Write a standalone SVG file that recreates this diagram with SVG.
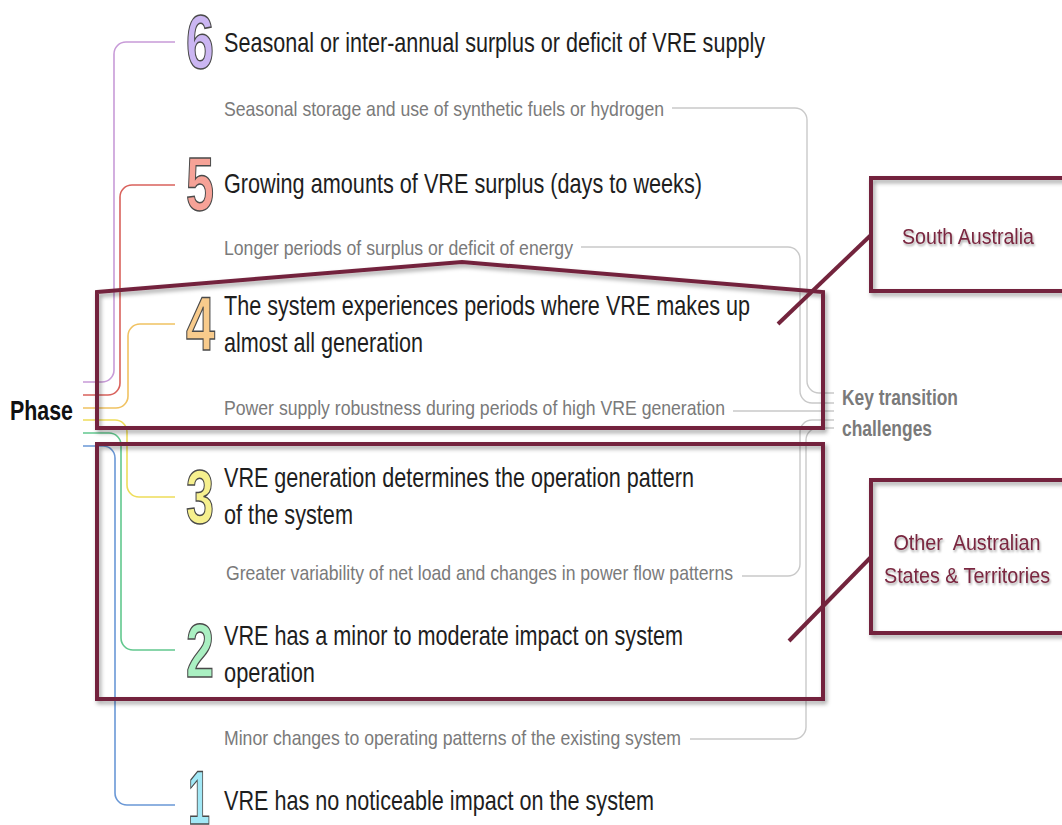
<svg xmlns="http://www.w3.org/2000/svg" width="1062" height="825" viewBox="0 0 1062 825">
<style>
.main{font-family:"Liberation Sans",Arial,sans-serif;font-size:28px;fill:#1e1e1e}
.sub{font-family:"Liberation Sans",Arial,sans-serif;font-size:21px;fill:#7a7a7a}
.dig{font-family:"Liberation Sans",Arial,sans-serif;font-size:76px;font-weight:bold;stroke:#4a4a4a;stroke-width:1.5}
.ph{fill:none;stroke-width:1.6}
.gc{fill:none;stroke:#c9c9c9;stroke-width:1.4}
.box{fill:none;stroke:#73243d;stroke-width:4;filter:url(#sh)}
.lead{stroke:#73243d;stroke-width:4;fill:none}
.call{font-family:"Liberation Sans",Arial,sans-serif;font-size:22px;fill:#7a2840;text-anchor:middle;filter:url(#tsh)}
.key{font-family:"Liberation Sans",Arial,sans-serif;font-size:22px;font-weight:bold;fill:#7a7a7a}
</style>
<defs>
<filter id="sh" x="-5%" y="-5%" width="110%" height="115%"><feDropShadow dx="2" dy="3" stdDeviation="2" flood-color="#000" flood-opacity="0.35"/></filter>
<filter id="tsh" x="-5%" y="-20%" width="110%" height="150%"><feDropShadow dx="1" dy="2" stdDeviation="1.2" flood-color="#000" flood-opacity="0.35"/></filter>
</defs>
<rect width="1062" height="825" fill="#fff"/>

<g id="connectors">
<path class="ph" stroke="#c89bd8" d="M83,382 H102 A12,12 0 0 0 114,370 V54 A12,12 0 0 1 126,42 H175"/>
<path class="ph" stroke="#d9625c" d="M83,395 H108 A12,12 0 0 0 120,383 V197 A12,12 0 0 1 132,185 H175"/>
<path class="ph" stroke="#f0c262" d="M83,408 H116 A12,12 0 0 0 128,396 V336 A12,12 0 0 1 140,324 H175"/>
<path class="ph" stroke="#eedd5a" d="M83,420 H115 A12,12 0 0 1 127,432 V485 A12,12 0 0 0 139,497 H175"/>
<path class="ph" stroke="#62c88e" d="M83,433 H109 A12,12 0 0 1 121,445 V638 A12,12 0 0 0 133,650 H175"/>
<path class="ph" stroke="#6a98d6" d="M83,446 H103 A12,12 0 0 1 115,458 V793 A12,12 0 0 0 127,805 H175"/>
<path class="gc" d="M672,108 H795 A12,12 0 0 1 807,120 V381 A12,12 0 0 0 819,393 H834"/>
<path class="gc" d="M581,247 H788 A12,12 0 0 1 800,259 V391 A12,12 0 0 0 812,403 H834"/>
<path class="gc" d="M733,411 H834"/>
<path class="gc" d="M742,576 H788 A12,12 0 0 0 800,564 V432 A12,12 0 0 1 812,420 H834"/>
<path class="gc" d="M690,739 H794 A12,12 0 0 0 806,727 V440 A12,12 0 0 1 818,428 H834"/>
</g>

<g id="phase"><text x="10" y="420" font-family="Liberation Sans, Arial, sans-serif" font-size="28" font-weight="bold" fill="#111" textLength="63" lengthAdjust="spacingAndGlyphs">Phase</text></g>

<g id="phase6">
<text class="dig" x="186" y="68" fill="#cbb6f2" textLength="28" lengthAdjust="spacingAndGlyphs">6</text>
<text class="main" x="224" y="52" textLength="541" lengthAdjust="spacingAndGlyphs">Seasonal or inter-annual surplus or deficit of VRE supply</text>
</g>
<g id="challenge6"><text class="sub" x="224" y="116" textLength="440" lengthAdjust="spacingAndGlyphs">Seasonal storage and use of synthetic fuels or hydrogen</text></g>

<g id="phase5">
<text class="dig" x="186" y="210" fill="#f6a297" textLength="28" lengthAdjust="spacingAndGlyphs">5</text>
<text class="main" x="224" y="193" textLength="478" lengthAdjust="spacingAndGlyphs">Growing amounts of VRE surplus (days to weeks)</text>
</g>
<g id="challenge5"><text class="sub" x="224" y="255" textLength="349" lengthAdjust="spacingAndGlyphs">Longer periods of surplus or deficit of energy</text></g>

<g id="phase4">
<text class="dig" x="186" y="350" fill="#f8cb8c" textLength="29" lengthAdjust="spacingAndGlyphs">4</text>
<text class="main" x="224" y="315" textLength="526" lengthAdjust="spacingAndGlyphs">The system experiences periods where VRE makes up</text>
<text class="main" x="224" y="352" textLength="199" lengthAdjust="spacingAndGlyphs">almost all generation</text>
</g>
<g id="challenge4"><text class="sub" x="224" y="415" textLength="501" lengthAdjust="spacingAndGlyphs">Power supply robustness during periods of high VRE generation</text></g>

<g id="phase3">
<text class="dig" x="186" y="523" fill="#f6f08e" textLength="28" lengthAdjust="spacingAndGlyphs">3</text>
<text class="main" x="224" y="487" textLength="470" lengthAdjust="spacingAndGlyphs">VRE generation determines the operation pattern</text>
<text class="main" x="224" y="524" textLength="129" lengthAdjust="spacingAndGlyphs">of the system</text>
</g>
<g id="challenge3"><text class="sub" x="226" y="580" textLength="507" lengthAdjust="spacingAndGlyphs">Greater variability of net load and changes in power flow patterns</text></g>

<g id="phase2">
<text class="dig" x="186" y="677" fill="#aaf0c2" textLength="28" lengthAdjust="spacingAndGlyphs">2</text>
<text class="main" x="224" y="645" textLength="459" lengthAdjust="spacingAndGlyphs">VRE has a minor to moderate impact on system</text>
<text class="main" x="224" y="682" textLength="91" lengthAdjust="spacingAndGlyphs">operation</text>
</g>
<g id="challenge2"><text class="sub" x="224" y="745" textLength="457" lengthAdjust="spacingAndGlyphs">Minor changes to operating patterns of the existing system</text></g>

<g id="phase1">
<text class="dig" x="188" y="824" fill="#a2e8f6" textLength="22" lengthAdjust="spacingAndGlyphs">1</text>
<text class="main" x="224" y="810" textLength="430" lengthAdjust="spacingAndGlyphs">VRE has no noticeable impact on the system</text>
</g>

<g id="key">
<text class="key" x="842" y="405" textLength="116" lengthAdjust="spacingAndGlyphs">Key transition</text>
<text class="key" x="842" y="436" textLength="90" lengthAdjust="spacingAndGlyphs">challenges</text>
</g>

<g id="box-sa"><path class="box" d="M97,292 L462,262 L823,292 V428 H97 Z"/></g>
<g id="box-other"><rect class="box" x="97" y="444" width="726" height="255"/></g>

<g id="callout-sa">
<line class="lead" x1="778" y1="324" x2="871" y2="235"/>
<rect class="box" x="871" y="178" width="200" height="113"/>
<text class="call" x="968" y="244" textLength="132" lengthAdjust="spacingAndGlyphs">South Australia</text>
</g>
<g id="callout-other">
<line class="lead" x1="789" y1="641" x2="871" y2="557"/>
<rect class="box" x="871" y="480" width="200" height="153"/>
<text class="call" x="967" y="550" textLength="147" lengthAdjust="spacingAndGlyphs" xml:space="preserve">Other  Australian</text>
<text class="call" x="967" y="583" textLength="166" lengthAdjust="spacingAndGlyphs">States &amp; Territories</text>
</g>
</svg>
